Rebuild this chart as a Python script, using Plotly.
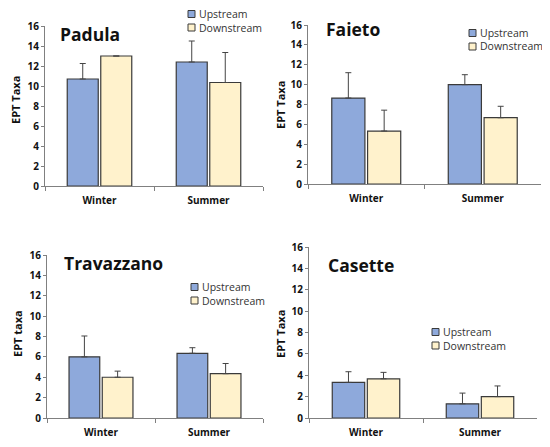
import plotly.graph_objects as go

# Seasons sampled at each stream
seasons = ['Winter', 'Summer']
sites = ['Padula', 'Faieto', 'Travazzano', 'Casette']
y_titles = ['EPT Taxa', 'EPT Taxa', 'EPT taxa', 'EPT Taxa']
series_names = ['Upstream', 'Downstream']

# Mean EPT taxa per site (Winter, Summer)
upstream = {
    'Padula': [10.7, 12.4],
    'Faieto': [8.65, 10.0],
    'Travazzano': [6.0, 6.35],
    'Casette': [3.33, 1.33],
}
downstream = {
    'Padula': [13.0, 10.35],
    'Faieto': [5.33, 6.67],
    'Travazzano': [4.0, 4.35],
    'Casette': [3.67, 2.0],
}
# Upper error bars (SD)
upstream_err = {
    'Padula': [1.55, 2.1],
    'Faieto': [2.55, 1.0],
    'Travazzano': [2.05, 0.55],
    'Casette': [1.0, 1.0],
}
downstream_err = {
    'Padula': [0.0, 3.0],
    'Faieto': [2.1, 1.15],
    'Travazzano': [0.6, 1.0],
    'Casette': [0.6, 1.0],
}

# page body adds an 8px margin, so the figure is made smaller and shifted back
PAGE_PAD = 8
W, H = 550 - PAGE_PAD, 447 - PAGE_PAD
UP_COLOR = '#8EA9DB'
DOWN_COLOR = '#FFF2CC'
EDGE = '#3a3a3a'
AXIS = '#808080'
FONT = 'Open Sans'


def px(x):
    return (x - PAGE_PAD) / W


def py(y):
    return 1 - (y - PAGE_PAD) / H


# panel layout in window pixels: plot box (left, right, top, bottom), title (left, mid y),
# y title centre, legend (swatch left, first row y)
panels = {
    'Padula': dict(box=(45, 263, 26, 186), title=(58, 34), ytitle=(15, 100), leg=(188, 14)),
    'Faieto': dict(box=(308, 541, 25, 184), title=(324, 29), ytitle=(280, 105), leg=(469, 33)),
    'Travazzano': dict(box=(47, 263, 255, 418), title=(62, 263), ytitle=(17, 334), leg=(191, 287)),
    'Casette': dict(box=(309, 537, 247, 418), title=(326, 265), ytitle=(280, 334), leg=(432, 332)),
}

fig = go.Figure()

for i, site in enumerate(sites):
    n = '' if i == 0 else str(i + 1)
    for name, vals, errs, color in [
        ('Upstream', upstream, upstream_err, UP_COLOR),
        ('Downstream', downstream, downstream_err, DOWN_COLOR),
    ]:
        fig.add_trace(go.Bar(
            name=name,
            x=seasons,
            y=vals[site],
            xaxis='x' + n,
            yaxis='y' + n,
            showlegend=False,
            marker=dict(color=color, line=dict(color=EDGE, width=1.2)),
            error_y=dict(type='data', array=errs[site], symmetric=False,
                         arrayminus=[0, 0], color='#444', thickness=1, width=3),
        ))

    p = panels[site]
    l, r, t, b = p['box']
    fig.update_layout({
        'xaxis' + n: dict(
            domain=[px(l), px(r)], anchor='y' + n, type='category',
            showline=True, linecolor=AXIS, linewidth=1,
            ticks='outside', tickson='boundaries', ticklen=4, tickcolor=AXIS,
            ticklabelstandoff=5,
            tickfont=dict(family=FONT, size=10, color='#111', weight='bold'),
            showgrid=False, zeroline=False, fixedrange=True,
        ),
        'yaxis' + n: dict(
            domain=[py(b), py(t)], anchor='x' + n, range=[0, 16], dtick=2,
            showline=True, linecolor=AXIS, linewidth=1,
            ticks='outside', ticklen=3, tickcolor=AXIS,
            tickfont=dict(family=FONT, size=10, color='#111', weight='bold'),
            showgrid=False, zeroline=False, fixedrange=True,
        ),
    })

    # panel title
    fig.add_annotation(
        text=site, xref='paper', yref='paper',
        x=px(p['title'][0]), y=py(p['title'][1]), xanchor='left', yanchor='middle',
        showarrow=False,
        font=dict(family=FONT, size=17.5, color='#111', weight='bold'),
    )
    # y axis title
    fig.add_annotation(
        text=y_titles[i], xref='paper', yref='paper', textangle=-90,
        x=px(p['ytitle'][0]), y=py(p['ytitle'][1]), xanchor='center', yanchor='middle',
        showarrow=False,
        font=dict(family=FONT, size=11, color='#111', weight='bold'),
    )
    # legend (swatch + label)
    lx, ly = p['leg']
    for k, (name, color) in enumerate(zip(series_names, [UP_COLOR, DOWN_COLOR])):
        yy = ly + k * 13.5
        fig.add_shape(
            type='rect', xref='paper', yref='paper',
            x0=px(lx), x1=px(lx + 7), y0=py(yy + 3.5), y1=py(yy - 3.5),
            fillcolor=color, line=dict(color=EDGE, width=1),
        )
        fig.add_annotation(
            text=name, xref='paper', yref='paper',
            x=px(lx + 9), y=py(yy), xanchor='left', yanchor='middle',
            showarrow=False,
            font=dict(family=FONT, size=10.5, color='#333'),
        )

fig.update_layout(
    width=W, height=H,
    margin=dict(l=0, r=0, t=0, b=0, autoexpand=False),
    paper_bgcolor='white', plot_bgcolor='white',
    barmode='group', bargap=0.385, bargroupgap=0.075,
    showlegend=False,
)

fig.write_html('out.html')
